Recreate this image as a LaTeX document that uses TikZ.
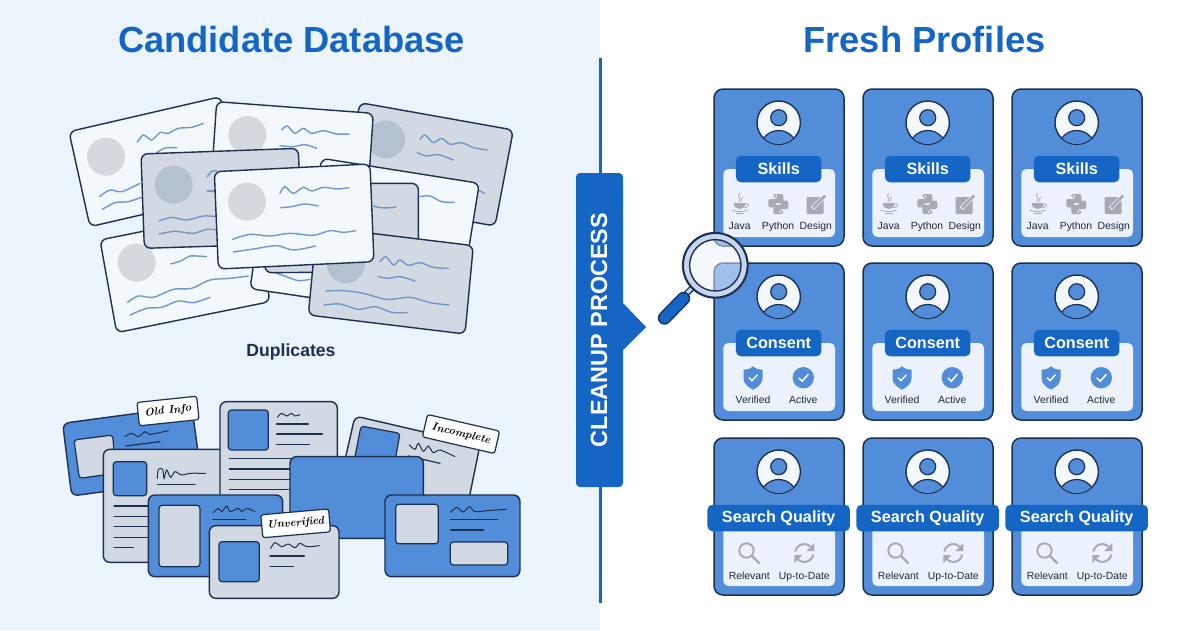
\documentclass[tikz,border=0pt]{standalone}
\usepackage{fontspec}
\setsansfont{Liberation Sans}
\usetikzlibrary{arrows.meta}
\definecolor{paneL}{HTML}{EBF3FB}
\definecolor{navy}{HTML}{1B3052}
\definecolor{cardW}{HTML}{F3F8FD}
\definecolor{cardG}{HTML}{D2D9E2}
\definecolor{discL}{HTML}{D4D9E0}
\definecolor{discD}{HTML}{B4C1D0}
\definecolor{wave}{HTML}{6F98CB}
\definecolor{blueM}{HTML}{528DD9}
\definecolor{blueD}{HTML}{1565C4}
\definecolor{panel}{HTML}{EBF2FB}
\definecolor{iconG}{HTML}{A6ABB2}
\definecolor{ink}{HTML}{1F2935}
\definecolor{ring}{HTML}{C6D6EC}
\tikzset{
  sheetW/.style={draw=navy,line width=1.4pt,fill=cardW,rounded corners=6.5pt},
  sheetG/.style={draw=navy,line width=1.4pt,fill=cardG,rounded corners=6.5pt},
  sheetB/.style={draw=navy,line width=1.4pt,fill=blueM,rounded corners=6.5pt},
  wavy/.style={draw=wave,line width=1.4pt,line cap=round},
  rule/.style={draw=navy,line width=1.2pt,line cap=round},
  scrawl/.style={draw=navy,line width=1pt,line cap=round},
  slotB/.style={draw=navy,line width=1.2pt,fill=blueM,rounded corners=3pt},
  slotG/.style={draw=navy,line width=1.2pt,fill=cardG,rounded corners=3pt},
  tagbox/.style={draw=navy,line width=1.2pt,fill=white,rounded corners=2.5pt,inner sep=0pt,align=center,font=\rmfamily\itshape\bfseries\fontsize{11}{13}\selectfont},
  pcard/.style={draw=navy,line width=1.5pt,fill=blueM,rounded corners=9pt},
  pill/.style={fill=blueD,rounded corners=5pt,text=white,inner sep=0pt,minimum height=26.5pt,font=\sffamily\bfseries\fontsize{16.2}{18}\selectfont},
  small/.style={text=ink,inner sep=0pt,anchor=base,font=\sffamily\fontsize{10.4}{12}\selectfont},
  title/.style={text=blueD,inner sep=0pt,font=\sffamily\bfseries\fontsize{36.3}{40}\selectfont},
}
% Shared body of every profile card: frame, avatar, panel and heading pill
\newcommand{\profilebase}[3]{%
  \draw[pcard] (0,0) rectangle (130,157);
  \draw[draw=navy,line width=1.4pt,fill=cardW] (64.7,33.7) circle[radius=21.7pt];
  \begin{scope}
    \clip (64.7,33.7) circle[radius=21.2pt];
    \draw[draw=navy,line width=1.2pt,fill=blueM] (64.7,60) circle[radius=18.5pt];
  \end{scope}
  \draw[draw=navy,line width=1.2pt,fill=blueM] (64.7,28.7) circle[radius=8pt];
  \fill[panel,rounded corners=5pt] (9.3,80) rectangle (121,148);
  \node[pill,minimum width=#2pt] (#1) at (64.7,80) {#3};
}
\newcommand{\javaicon}{%
  \draw[iconG,line width=.8pt] (0,-11) .. controls (-4,-7) and (3,-6) .. (-1,-2);
  \draw[iconG,line width=.8pt] (3,-7) .. controls (0,-5) and (4,-4) .. (2,-2);
  \fill[iconG] (-6,-1) -- (6,-1) .. controls (6,3) and (3,5) .. (0,5) .. controls (-3,5) and (-6,3) .. (-6,-1) -- cycle;
  \draw[iconG,line width=.8pt] (6,0) .. controls (10,-1) and (10,3) .. (4.5,4);
  \draw[iconG,line width=.8pt] (-8,6.2) .. controls (-3,8) and (3,8) .. (8,6.2);
  \draw[iconG,line width=.8pt] (-4,9) -- (4,9);
}
\newcommand{\pythonhalf}{%
  \fill[iconG,rounded corners=2pt] (-5,-10) -- (5,-10) -- (5,-1) -- (-3,-1) -- (-3,3.4) -- (-10,3.4) -- (-10,-5) -- (-1,-5) -- (-1,-6.3) -- (-5,-6.3) -- cycle;
  \fill[panel] (-2,-8) circle[radius=1.1pt];
}
\newcommand{\pythonicon}{%
  \pythonhalf
  \begin{scope}[xscale=-1,yscale=-1]\pythonhalf\end{scope}
}
\newcommand{\designicon}{%
  \fill[iconG,rounded corners=1pt] (-9,-7) rectangle (8,10);
  \draw[panel,line width=4pt] (-3.5,4.5) -- (9,-8);
  \draw[iconG,line width=2.6pt] (-1.5,2.5) -- (9.5,-8.5);
  \fill[iconG] (-3.5,4.7) -- (-2.6,1.3) -- (-.2,3.8) -- cycle;
}
\newcommand{\shieldicon}{%
  \fill[blueM] (0,-11.5) .. controls (-3,-8.5) and (-6,-8) .. (-9.5,-8) -- (-9.5,1) .. controls (-9.5,6) and (-4,10) .. (0,12) .. controls (4,10) and (9.5,6) .. (9.5,1) -- (9.5,-8) .. controls (6,-8) and (3,-8.5) .. (0,-11.5) -- cycle;
  \draw[white,line width=1.4pt] (-4,0) -- (-1,3) -- (4.5,-3);
}
\newcommand{\checkicon}{%
  \fill[blueM] (0,0) circle[radius=10.7pt];
  \draw[white,line width=1.5pt] (-4.5,.3) -- (-1,3.5) -- (5,-3.5);
}
\newcommand{\lensicon}{%
  \draw[iconG,line width=1.9pt] (-2.5,-2.5) circle[radius=7.2pt];
  \draw[iconG,line width=2.2pt,line cap=round] (2.8,2.8) -- (10,10);
}
\newcommand{\refreshicon}{%
  \draw[iconG,line width=2pt] (-9,-1.5) arc[start angle=170,end angle=45,radius=9pt];
  \draw[iconG,line width=2pt] (9,1.5) arc[start angle=-10,end angle=-135,radius=9pt];
  \fill[iconG] (10,-10) -- (10,-2) -- (2,-2) -- cycle;
  \fill[iconG] (-10,10) -- (-10,2) -- (-2,2) -- cycle;
}
\begin{document}
\begin{tikzpicture}[x=1pt,y=-1pt]
\useasboundingbox (0,0) rectangle (1200,630);
\fill[white] (0,0) rectangle (1200,630);
\fill[paneL] (0,0) rectangle (600,630);

\node[title] (titleL) at (291.5,40) {Candidate Database};
\node[title] (titleR) at (924.5,40) {Fresh Profiles};
\node[text=navy,inner sep=0pt,font=\sffamily\bfseries\fontsize{17.6}{20}\selectfont] (dup) at (291,352) {Duplicates};

% Scattered duplicate sheets, back to front
\begin{scope}[shift={(50,80)},x=.33333pt,y=-.33333pt]
  % far right
  \draw[sheetG] (930,68) -- (1390,150) -- (1335,438) -- (875,356) -- cycle;
  \fill[discD] (1008,178) circle[radius=19pt];
  \draw[wavy] plot[smooth] coordinates {(1110,178) (1125,165) (1150,188) (1175,175) (1200,193) (1235,188) (1270,203) (1312,210)};
  \draw[wavy] plot[smooth] coordinates {(1102,218) (1130,228) (1165,224) (1210,240)};
  \draw[wavy] (1285,330) -- (1303,340);
  % far left
  \draw[sheetW] (57,155) -- (512,50) -- (575,335) -- (120,440) -- cycle;
  \fill[discL] (168,230) circle[radius=19pt];
  \draw[wavy] plot[smooth] coordinates {(262,187) (280,165) (305,180) (330,158) (355,160) (385,145) (425,142) (460,130)};
  \draw[wavy] plot[smooth] coordinates {(320,218) (345,204) (380,203)};
  \draw[wavy] plot[smooth] coordinates {(148,350) (180,330) (215,335) (270,310)};
  \draw[wavy] plot[smooth] coordinates {(157,388) (195,368) (235,365) (280,350)};
  % top middle
  \draw[sheetW] (500,65) -- (970,100) -- (950,395) -- (480,360) -- cycle;
  \fill[discL] (592,165) circle[radius=19pt];
  \draw[wavy] plot[smooth] coordinates {(695,150) (712,138) (735,160) (760,145) (785,160) (820,152) (860,162) (898,162)};
  \draw[wavy] plot[smooth] coordinates {(690,197) (730,200) (765,194) (800,205)};
  % lower left
  \draw[sheetW] (150,480) -- (610,387) -- (660,665) -- (200,758) -- cycle;
  \fill[discL] (260,548) circle[radius=19pt];
  \draw[wavy] plot[smooth] coordinates {(362,552) (395,542) (420,528) (470,530)};
  \draw[wavy] plot[smooth] coordinates {(232,668) (265,648) (310,652) (370,628) (425,625) (480,600) (540,595) (595,588)};
  \draw[wavy] plot[smooth] coordinates {(240,705) (290,685) (335,682) (385,663) (430,668) (480,652)};
  % hidden sheets behind the centre
  \draw[sheetW] (640,350) -- (1100,420) -- (1060,694) -- (600,626) -- cycle;
  \draw[wavy] plot[smooth] coordinates {(680,580) (710,590) (745,602) (780,598)};
  \draw[sheetW] (815,235) -- (1288,310) -- (1240,607) -- (768,532) -- cycle;
  \draw[wavy] plot[smooth] coordinates {(1110,350) (1140,348) (1175,365) (1212,367)};
  \draw[sheetG] (640,310) -- (1105,310) -- (1105,575) -- (645,578) -- cycle;
  \draw[wavy] (970,378) .. controls (990,385) and (1015,385) .. (1038,381);
  % middle left
  \draw[sheetG] (273,222) -- (745,205) -- (755,490) -- (283,505) -- cycle;
  \fill[discD] (371,314) circle[radius=19pt];
  \draw[wavy] plot[smooth] coordinates {(472,290) (485,274) (500,272)};
  \draw[wavy] (472,333) -- (500,333);
  \draw[wavy] plot[smooth] coordinates {(327,423) (365,412) (410,420) (460,408) (500,410)};
  \draw[wavy] plot[smooth] coordinates {(328,462) (375,454) (430,460) (470,448) (500,450)};
  % lower right
  \draw[sheetG] (800,440) -- (1270,497) -- (1245,762) -- (775,705) -- cycle;
  \fill[discD] (888,553) circle[radius=19pt];
  \draw[wavy] plot[smooth] coordinates {(990,545) (1008,530) (1030,555) (1050,540) (1075,556) (1110,548) (1150,562) (1195,565)};
  \draw[wavy] plot[smooth] coordinates {(985,590) (1015,595) (1050,590) (1095,603)};
  \draw[wavy] plot[smooth] coordinates {(828,633) (880,632) (940,640) (1010,658) (1080,652) (1140,668) (1197,675)};
  \draw[wavy] plot[smooth] coordinates {(822,675) (870,672) (925,688) (975,680) (1025,697) (1072,698)};
  % centre, on top of the pile
  \draw[sheetW] (493,275) -- (960,252) -- (972,545) -- (505,567) -- cycle;
  \fill[discL] (591,365) circle[radius=19pt];
  \draw[wavy] plot[smooth] coordinates {(690,340) (705,320) (730,340) (760,322) (785,333) (820,322) (860,327) (897,323)};
  \draw[wavy] plot[smooth] coordinates {(692,383) (725,380) (765,372) (805,378)};
  \draw[wavy] plot[smooth] coordinates {(548,478) (600,463) (660,468) (720,460) (790,466) (840,452) (880,457) (917,452)};
  \draw[wavy] plot[smooth] coordinates {(550,516) (610,507) (680,497) (730,510) (797,498)};
\end{scope}

% Outdated and incomplete records, back to front
\begin{scope}[shift={(50,380)},x=.33333pt,y=-.33333pt]
  % tilted blue record
  \draw[sheetB] (38,130) -- (425,78) -- (455,295) -- (65,348) -- cycle;
  \draw[slotG] (72,180) -- (188,165) -- (197,280) -- (88,295) -- cycle;
  \draw[scrawl] plot[smooth] coordinates {(225,170) (245,160) (265,170) (285,155) (300,163) (355,152)};
  \draw[rule] (228,198) -- (330,185);
  % tilted grey record
  \draw[sheetG] (915,108) -- (1290,195) -- (1240,440) -- (860,350) -- cycle;
  \draw[slotB] (933,138) -- (1050,160) -- (1030,270) -- (912,245) -- cycle;
  \draw[scrawl] plot[smooth] coordinates {(1078,195) (1095,208) (1105,190) (1120,214) (1135,198) (1150,218) (1170,210) (1215,230)};
  \draw[rule] (1075,228) -- (1170,250);
  % left grey record
  \draw[sheetG] (160,208) rectangle (540,547);
  \draw[slotB] (190,245) rectangle (290,347);
  \draw[scrawl] plot[smooth] coordinates {(322,295) (325,268) (338,268) (342,295) (350,270) (362,292) (375,275) (395,285) (420,280) (467,280)};
  \draw[rule] (322,314) -- (435,314);
  \draw[rule] (192,378) -- (295,378);
  \draw[rule] (192,409) -- (295,409);
  \draw[rule] (192,440) -- (295,440);
  \draw[rule] (192,472) -- (295,472);
  \draw[rule] (192,503) -- (250,503);
  % tall grey record
  \draw[sheetG] (510,65) -- (862,65) -- (862,500) -- (510,500) -- cycle;
  \draw[slotB] (535,90) rectangle (655,210);
  \draw[scrawl] plot[smooth] coordinates {(682,112) (695,100) (710,108) (725,100) (735,108) (750,104)};
  \draw[rule] (680,132) -- (775,132);
  \draw[rule] (680,162) -- (817,162);
  \draw[rule] (680,194) -- (778,194);
  \draw[rule] (538,236) -- (730,236);
  \draw[rule] (538,267) -- (730,267);
  \draw[rule] (538,298) -- (730,298);
  \draw[rule] (538,329) -- (730,329);
  % blank blue record
  \draw[sheetB] (720,230) rectangle (1120,475);
  % blue record with portrait slot
  \draw[sheetB] (295,345) rectangle (698,590);
  \draw[slotG] (327,376) rectangle (450,560);
  \draw[scrawl] plot[smooth] coordinates {(490,398) (505,385) (515,395) (530,378) (540,395) (565,385) (575,395) (590,385) (615,395)};
  \draw[rule] (488,418) -- (587,418);
  % front grey record
  \draw[sheetG] (478,437) rectangle (867,655);
  \draw[slotB] (507,485) rectangle (628,605);
  \draw[scrawl] plot[smooth] coordinates {(662,505) (675,488) (695,500) (715,492) (735,503) (750,490) (770,500) (808,497)};
  \draw[rule] (660,528) -- (763,528);
  \draw[rule] (660,559) -- (730,559);
  % right blue record
  \draw[sheetB] (1005,345) rectangle (1410,590);
  \draw[slotG] (1037,373) rectangle (1165,491);
  \draw[slotG] (1201,486) rectangle (1373,555);
  \draw[scrawl] plot[smooth] coordinates {(1202,397) (1220,382) (1240,396) (1258,380) (1275,395) (1310,392) (1370,388)};
  \draw[rule] (1202,419) -- (1343,419);
  \draw[rule] (1202,450) -- (1300,450);
  % status tags
  \node[tagbox,rotate=6,minimum width=60pt,minimum height=23.5pt] (tagOld) at (354,93) {Old Info};
  \node[tagbox,rotate=-13,minimum width=74pt,minimum height=23pt] (tagInc) at (1233,162) {Incomplete};
  \node[tagbox,rotate=5,minimum width=68pt,minimum height=23pt] (tagUnv) at (737,430) {Unverified};
\end{scope}

% Divider and process banner
\draw[blueD,line width=3pt] (600,58) -- (600,603);
\fill[blueD,rounded corners=4pt] (576,173) -- (623,173) [sharp corners] -- (623,303) -- (646,327) -- (623,350) [rounded corners=4pt] -- (623,487) -- (576,487) -- cycle;
\node[rotate=90,text=white,inner sep=0pt,font=\sffamily\bfseries\fontsize{23.4}{26}\selectfont] (banner) at (599,330) {CLEANUP PROCESS};

% Profile grid
\foreach \cx/\cn in {714/a,863/b,1012/c}{
  \begin{scope}[shift={(\cx,89)}]
    \profilebase{skills-\cn}{85.5}{Skills}
    \begin{scope}[shift={(25.7,115)}]\javaicon\end{scope}
    \begin{scope}[shift={(64.3,115)}]\pythonicon\end{scope}
    \begin{scope}[shift={(101.7,115)}]\designicon\end{scope}
    \node[small] (java-\cn) at (25.7,140.5) {Java};
    \node[small] (python-\cn) at (64,140.5) {Python};
    \node[small] (design-\cn) at (101.7,140.5) {Design};
  \end{scope}
  \begin{scope}[shift={(\cx,263)}]
    \profilebase{consent-\cn}{85.5}{Consent}
    \begin{scope}[shift={(39,114.7)}]\shieldicon\end{scope}
    \begin{scope}[shift={(89.3,114.7)}]\checkicon\end{scope}
    \node[small] (verified-\cn) at (39,140) {Verified};
    \node[small] (active-\cn) at (89.3,140) {Active};
  \end{scope}
  \begin{scope}[shift={(\cx,438)}]
    \profilebase{search-\cn}{142.5}{Search Quality}
    \begin{scope}[shift={(35,115)}]\lensicon\end{scope}
    \begin{scope}[shift={(90.3,115)}]\refreshicon\end{scope}
    \node[small] (relevant-\cn) at (35.3,141.5) {Relevant};
    \node[small] (uptodate-\cn) at (90.3,141.5) {Up-to-Date};
  \end{scope}
}

% Magnifying glass
\draw[draw=navy,line width=6pt] (684,296) -- (694,286);
\draw[ring,line width=3.4pt] (684,296) -- (694,286);
\draw[draw=navy,line width=13.4pt,line cap=round] (664.5,318) -- (683.5,298.5);
\draw[blueD,line width=10.8pt,line cap=round] (664.5,318) -- (683.5,298.5);
\fill[paneL,opacity=.5] (715.3,265.3) circle[radius=26pt];
\draw[draw=navy,line width=1.4pt] (715.3,265.3) circle[radius=32.7pt];
\draw[draw=navy,line width=1.4pt,fill=ring,even odd rule] (715.3,265.3) circle[radius=32pt] circle[radius=25.7pt];
\end{tikzpicture}
\end{document}
